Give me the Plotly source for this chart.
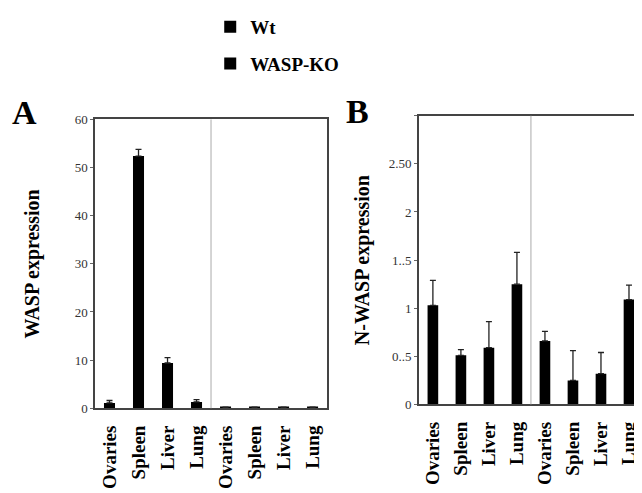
import plotly.graph_objects as go
import numpy as np

categories = ["Ovaries", "Spleen", "Liver", "Lung"]
series = ["Wt", "WASP-KO"]

wasp_wt = [1.1, 52.4, 9.4, 1.3]
wasp_wt_err = [0.5, 1.4, 1.1, 0.5]
wasp_ko = [0.2, 0.2, 0.2, 0.2]
wasp_ko_err = [0.0, 0.0, 0.0, 0.0]

nwasp_wt = [1.03, 0.51, 0.59, 1.25]
nwasp_wt_err = [0.26, 0.06, 0.27, 0.33]
nwasp_ko = [0.66, 0.25, 0.32, 1.09]
nwasp_ko_err = [0.10, 0.31, 0.22, 0.15]

a_ticks = [0, 10, 20, 30, 40, 50, 60]
b_tickvals = [0, 0.5, 1, 1.5, 2, 2.5, 3]
b_ticktext = ["0", "0..5", "1", "1..5", "2", "2.50", ""]

FONT = "Liberation Serif"
pos_wt = np.arange(len(categories))
pos_ko = np.arange(len(categories)) + len(categories)
all_pos = list(pos_wt) + list(pos_ko)
all_text = categories + categories

fig = go.Figure()

def add_bars(xa, ya, wt, wt_err, ko, ko_err, show):
    for name, pos, vals, errs in [(series[0], pos_wt, wt, wt_err), (series[1], pos_ko, ko, ko_err)]:
        fig.add_trace(go.Bar(
            x=pos, y=vals, name=name, legendgroup=name, showlegend=show,
            xaxis=xa, yaxis=ya, width=0.38,
            marker=dict(color="black", line=dict(width=0)),
            error_y=dict(type="data", array=errs, arrayminus=[0] * len(errs),
                         symmetric=False, color="#222", thickness=1.3, width=3,
                         visible=True),
        ))

add_bars("x", "y", wasp_wt, wasp_wt_err, wasp_ko, wasp_ko_err, True)
add_bars("x2", "y2", nwasp_wt, nwasp_wt_err, nwasp_ko, nwasp_ko_err, False)

xcommon = dict(
    tickmode="array", tickvals=all_pos, ticktext=all_text, tickangle=-90,
    showline=True, linecolor="#444", linewidth=1.5,
    ticks="", showgrid=False, zeroline=False, mirror=True,
    tickfont=dict(family=FONT, size=19, color="black", weight="bold"),
    ticklabelstandoff=8,
)

fig.update_layout(
    width=642, height=493,
    margin=dict(l=0, r=0, t=0, b=0),
    paper_bgcolor="white", plot_bgcolor="white",
    barmode="overlay",
    font=dict(family=FONT),
    xaxis=dict(domain=[0.1355, 0.497], anchor="y", range=[-0.5, 7.5], **xcommon),
    yaxis=dict(domain=[0.18, 0.793], anchor="x", range=[0, 60],
               tickvals=a_ticks, showline=True, linecolor="#444", linewidth=1.5,
               mirror=True, ticks="outside", ticklen=3, tickcolor="#666",
               showgrid=False, zeroline=False,
               tickfont=dict(family=FONT, size=13, color="#333"),
               title=dict(text="WASP expression", standoff=30,
                          font=dict(family=FONT, size=20, color="black", weight="bold"))),
    xaxis2=dict(domain=[0.640, 1.0], anchor="y2", range=[-0.5, 7.75], **xcommon),
    yaxis2=dict(domain=[0.188, 0.801], anchor="x2", range=[0, 3],
                tickmode="array", tickvals=b_tickvals, ticktext=b_ticktext,
                showline=True, linecolor="#444", linewidth=1.5,
                ticks="outside", ticklen=3, tickcolor="#666",
                showgrid=False, zeroline=False,
                tickfont=dict(family=FONT, size=13, color="#333"),
                title=dict(text="N-WASP expression", standoff=14,
                           font=dict(family=FONT, size=20, color="black", weight="bold"))),
    legend=dict(x=0.315, y=1.03, xanchor="left", yanchor="top",
                orientation="v", traceorder="grouped", tracegroupgap=9,
                font=dict(family=FONT, size=19, color="black", weight="bold"),
                itemwidth=30, bgcolor="rgba(0,0,0,0)"),
    showlegend=True,
)

for xr, yr in [("x", "y"), ("x2", "y2")]:
    fig.add_shape(type="line", xref=xr, yref=yr + " domain",
                  x0=3.5, x1=3.5, y0=0, y1=1,
                  line=dict(color="#aaa", width=1))

fig.add_annotation(text="A", xref="paper", yref="paper", x=0.026, y=0.807,
                   xanchor="center", yanchor="middle", showarrow=False,
                   font=dict(family=FONT, size=34, color="black", weight="bold"))
fig.add_annotation(text="B", xref="paper", yref="paper", x=0.544, y=0.81,
                   xanchor="center", yanchor="middle", showarrow=False,
                   font=dict(family=FONT, size=34, color="black", weight="bold"))

fig.write_html("out.html")
